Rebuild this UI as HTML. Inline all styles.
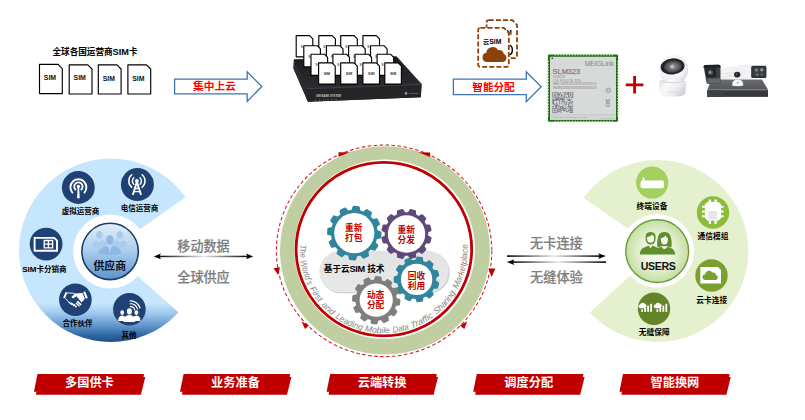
<!DOCTYPE html>
<html lang="zh-CN"><head><meta charset="utf-8"><title>云SIM 技术</title>
<style>
html,body{margin:0;padding:0;background:#fff;}
body{width:805px;height:420px;overflow:hidden;font-family:"Liberation Sans","Noto Sans CJK SC",sans-serif;}
svg{display:block;}
text{font-family:"Liberation Sans","Noto Sans CJK SC",sans-serif;}
.b{font-weight:700;}
</style></head><body>
<svg width="805" height="420" viewBox="0 0 805 420">
<defs>
<linearGradient id="gBlueC" gradientUnits="userSpaceOnUse" x1="0" y1="158.5" x2="0" y2="342">
<stop offset="0" stop-color="#c6e6fd"/><stop offset="0.79" stop-color="#c6e6fd"/><stop offset="0.847" stop-color="#9cc6ec"/><stop offset="0.913" stop-color="#5f95cb"/><stop offset="0.962" stop-color="#2f68a5"/><stop offset="1" stop-color="#1b4d8a"/>
</linearGradient>
<linearGradient id="gGreenC" gradientUnits="userSpaceOnUse" x1="0" y1="162" x2="0" y2="343">
<stop offset="0" stop-color="#e5f1ce"/><stop offset="1" stop-color="#e5f1ce"/>
</linearGradient>
<linearGradient id="gSup" x1="0" y1="0" x2="0" y2="1">
<stop offset="0" stop-color="#e2effa"/><stop offset="0.5" stop-color="#a9cdec"/><stop offset="1" stop-color="#5b93c8"/>
</linearGradient>
<radialGradient id="gUsers" cx="0.5" cy="0.5" r="0.5">
<stop offset="0" stop-color="#fbfdf7"/><stop offset="0.5" stop-color="#eaf3da"/><stop offset="1" stop-color="#c5dda2"/>
</radialGradient>
<linearGradient id="gLine" x1="0" y1="0" x2="1" y2="0">
<stop offset="0" stop-color="#000"/><stop offset="0.5" stop-color="#e8e8e8"/><stop offset="1" stop-color="#000"/>
</linearGradient>
<linearGradient id="gPill" x1="0" y1="0" x2="0" y2="1">
<stop offset="0" stop-color="#e2e2e2"/><stop offset="1" stop-color="#e9e9e9"/>
</linearGradient>
<linearGradient id="gBoxTop" x1="0" y1="0" x2="0" y2="1">
<stop offset="0" stop-color="#1d1d20"/><stop offset="1" stop-color="#2c2c30"/>
</linearGradient>
<radialGradient id="gLens" cx="0.5" cy="0.5" r="0.5">
<stop offset="0" stop-color="#9a9da4"/><stop offset="0.5" stop-color="#6a6d73"/><stop offset="0.85" stop-color="#484a4f"/><stop offset="1" stop-color="#2c2d31"/>
</radialGradient>
<radialGradient id="gCamHead" cx="0.42" cy="0.4" r="0.62">
<stop offset="0" stop-color="#ffffff"/><stop offset="0.7" stop-color="#f4f4f5"/><stop offset="1" stop-color="#d9d9dd"/>
</radialGradient>
<linearGradient id="gCamBase" x1="0" y1="0" x2="1" y2="0.5">
<stop offset="0" stop-color="#dfdfe2"/><stop offset="0.35" stop-color="#f9f9fa"/><stop offset="0.75" stop-color="#ececee"/><stop offset="1" stop-color="#d2d2d6"/>
</linearGradient>
<linearGradient id="gNvrTop" x1="0" y1="0" x2="0" y2="1">
<stop offset="0" stop-color="#6c6d70"/><stop offset="1" stop-color="#545558"/>
</linearGradient>
<path id="arcText" d="M 300.36,240.64 A 83.8,83.8 0 1 0 467.04,240.64"/>
</defs>
<rect width="805" height="420" fill="#fff"/>

<g id="simrow">
<text x="95" y="54.6" font-size="8.6" class="b" text-anchor="middle" fill="#000">全球各国运营商<tspan font-size="9.2">SIM</tspan>卡</text>
<path d="M39.5,64.4 L58.099999999999994,64.4 L62.3,68.60000000000001 L62.3,93.60000000000001 L39.5,93.60000000000001Z" fill="#fff" stroke="#000" stroke-width="1.15" stroke-linejoin="round"/>
<text x="50.0" y="80.10000000000001" font-size="6.9" class="b" text-anchor="middle" fill="#111">SIM</text>
<path d="M69.2,64.80000000000001 L87.8,64.80000000000001 L92.0,69.00000000000001 L92.0,94.00000000000001 L69.2,94.00000000000001Z" fill="#fff" stroke="#000" stroke-width="1.15" stroke-linejoin="round"/>
<text x="79.7" y="80.10000000000001" font-size="6.9" class="b" text-anchor="middle" fill="#111">SIM</text>
<path d="M98.3,64.80000000000001 L116.89999999999999,64.80000000000001 L121.1,69.00000000000001 L121.1,94.00000000000001 L98.3,94.00000000000001Z" fill="#fff" stroke="#000" stroke-width="1.15" stroke-linejoin="round"/>
<text x="108.8" y="81.00000000000001" font-size="6.9" class="b" text-anchor="middle" fill="#111">SIM</text>
<path d="M127.9,64.80000000000001 L146.50000000000003,64.80000000000001 L150.70000000000002,69.00000000000001 L150.70000000000002,94.00000000000001 L127.9,94.00000000000001Z" fill="#fff" stroke="#000" stroke-width="1.15" stroke-linejoin="round"/>
<text x="138.4" y="81.00000000000001" font-size="6.9" class="b" text-anchor="middle" fill="#111">SIM</text>
</g>
<g id="arrow1">
<path d="M174.6,79.2 L247.2,79.2 L247.2,71.8 L261.8,86.5 L247.2,101.4 L247.2,93.9 L174.6,93.9Z" fill="#fff" stroke="#3f73b8" stroke-width="1.3" stroke-linejoin="miter"/>
<text x="214.5" y="90.4" font-size="10.7" class="b" text-anchor="middle" fill="#ff0000">集中上云</text>
</g>
<g id="simbank">
<path d="M293.9,59.4 L396.4,56.4 L421.6,84.3 L420.8,97.2 L307.9,101.7 L293.5,68.6Z" fill="#222225"/>
<path d="M293.9,59.4 L396.4,56.4 L421.6,84.3 L306.6,88.6Z" fill="url(#gBoxTop)"/>
<path d="M293.9,59.4 L306.6,88.6 L307.9,101.7 L293.5,68.6Z" fill="#2b2b2f"/>
<path d="M306.6,88.6 L421.6,84.3 L420.8,97.2 L307.9,101.7Z" fill="#252528"/>
<path d="M306.6,88.7 L421.6,84.4 M396.4,56.6 L421.6,84.3" stroke="#4c4d52" stroke-width="0.7" fill="none"/>
<text x="316" y="97.4" font-size="2.7" fill="#c4c4c4" class="b">SIM BANK SYSTEM</text>
<g fill="#8a8f96"><circle cx="315.6" cy="100.20" r="0.5"/><circle cx="319.7" cy="100.04" r="0.5"/><circle cx="323.8" cy="99.88" r="0.5"/><circle cx="327.9" cy="99.72" r="0.5"/><circle cx="332.0" cy="99.56" r="0.5"/><circle cx="336.1" cy="99.40" r="0.5"/></g>
<circle cx="406" cy="93.4" r="1.3" fill="#9a9aa0"/><text x="408.4" y="94.3" font-size="2.5" fill="#aaa">cloudlink</text>
<path d="M296.2,35.6 L309.6,35.6 L312.8,38.800000000000004 L312.8,56.8 L296.2,56.8Z" fill="#fff" stroke="#000" stroke-width="1.15" stroke-linejoin="round"/>
<text x="301.7" y="47.8" font-size="3.2" class="b" text-anchor="middle" fill="#555">S</text>
<path d="M318.8,35.6 L332.20000000000005,35.6 L335.40000000000003,38.800000000000004 L335.40000000000003,56.8 L318.8,56.8Z" fill="#fff" stroke="#000" stroke-width="1.15" stroke-linejoin="round"/>
<text x="324.3" y="47.8" font-size="3.2" class="b" text-anchor="middle" fill="#555">S</text>
<path d="M340.7,35.6 L354.1,35.6 L357.3,38.800000000000004 L357.3,56.8 L340.7,56.8Z" fill="#fff" stroke="#000" stroke-width="1.15" stroke-linejoin="round"/>
<text x="346.2" y="47.8" font-size="3.2" class="b" text-anchor="middle" fill="#555">S</text>
<path d="M362.9,35.6 L376.3,35.6 L379.5,38.800000000000004 L379.5,56.8 L362.9,56.8Z" fill="#fff" stroke="#000" stroke-width="1.15" stroke-linejoin="round"/>
<text x="368.4" y="47.8" font-size="3.2" class="b" text-anchor="middle" fill="#555">S</text>
<path d="M303.8,45.7 L317.20000000000005,45.7 L320.40000000000003,48.900000000000006 L320.40000000000003,66.9 L303.8,66.9Z" fill="#fff" stroke="#000" stroke-width="1.15" stroke-linejoin="round"/>
<text x="309.3" y="57.900000000000006" font-size="3.2" class="b" text-anchor="middle" fill="#555">S</text>
<path d="M326.4,45.7 L339.8,45.7 L343.0,48.900000000000006 L343.0,66.9 L326.4,66.9Z" fill="#fff" stroke="#000" stroke-width="1.15" stroke-linejoin="round"/>
<text x="331.9" y="57.900000000000006" font-size="3.2" class="b" text-anchor="middle" fill="#555">S</text>
<path d="M348.6,45.7 L362.00000000000006,45.7 L365.20000000000005,48.900000000000006 L365.20000000000005,66.9 L348.6,66.9Z" fill="#fff" stroke="#000" stroke-width="1.15" stroke-linejoin="round"/>
<text x="354.1" y="57.900000000000006" font-size="3.2" class="b" text-anchor="middle" fill="#555">S</text>
<path d="M370.5,45.7 L383.90000000000003,45.7 L387.1,48.900000000000006 L387.1,66.9 L370.5,66.9Z" fill="#fff" stroke="#000" stroke-width="1.15" stroke-linejoin="round"/>
<text x="376.0" y="57.900000000000006" font-size="3.2" class="b" text-anchor="middle" fill="#555">S</text>
<path d="M311.0,54.2 L324.40000000000003,54.2 L327.6,57.400000000000006 L327.6,75.4 L311.0,75.4Z" fill="#fff" stroke="#000" stroke-width="1.15" stroke-linejoin="round"/>
<text x="316.5" y="66.4" font-size="3.2" class="b" text-anchor="middle" fill="#555">S</text>
<path d="M332.9,54.2 L346.3,54.2 L349.5,57.400000000000006 L349.5,75.4 L332.9,75.4Z" fill="#fff" stroke="#000" stroke-width="1.15" stroke-linejoin="round"/>
<text x="338.4" y="66.4" font-size="3.2" class="b" text-anchor="middle" fill="#555">S</text>
<path d="M355.0,54.2 L368.40000000000003,54.2 L371.6,57.400000000000006 L371.6,75.4 L355.0,75.4Z" fill="#fff" stroke="#000" stroke-width="1.15" stroke-linejoin="round"/>
<text x="360.5" y="66.4" font-size="3.2" class="b" text-anchor="middle" fill="#555">S</text>
<path d="M377.1,54.2 L390.50000000000006,54.2 L393.70000000000005,57.400000000000006 L393.70000000000005,75.4 L377.1,75.4Z" fill="#fff" stroke="#000" stroke-width="1.15" stroke-linejoin="round"/>
<text x="382.6" y="66.4" font-size="3.2" class="b" text-anchor="middle" fill="#555">S</text>
<path d="M318.6,62.9 L332.00000000000006,62.9 L335.20000000000005,66.1 L335.20000000000005,84.1 L318.6,84.1Z" fill="#fff" stroke="#000" stroke-width="1.15" stroke-linejoin="round"/>
<text x="326.90000000000003" y="75.1" font-size="3.6" class="b" text-anchor="middle" fill="#333">SIM</text>
<path d="M340.7,62.9 L354.1,62.9 L357.3,66.1 L357.3,84.1 L340.7,84.1Z" fill="#fff" stroke="#000" stroke-width="1.15" stroke-linejoin="round"/>
<text x="349.0" y="75.1" font-size="3.6" class="b" text-anchor="middle" fill="#333">SIM</text>
<path d="M362.9,62.9 L376.3,62.9 L379.5,66.1 L379.5,84.1 L362.9,84.1Z" fill="#fff" stroke="#000" stroke-width="1.15" stroke-linejoin="round"/>
<text x="371.2" y="75.1" font-size="3.6" class="b" text-anchor="middle" fill="#333">SIM</text>
<path d="M384.8,62.9 L398.20000000000005,62.9 L401.40000000000003,66.1 L401.40000000000003,84.1 L384.8,84.1Z" fill="#fff" stroke="#000" stroke-width="1.15" stroke-linejoin="round"/>
<text x="393.1" y="75.1" font-size="3.6" class="b" text-anchor="middle" fill="#333">SIM</text>
</g>
<g id="cloudsim">
<path d="M488.8,20.2 L512.4,20.2 L517.0,24.799999999999997 L517.0,56.0 Q517.0,58.2 514.8,58.2 L488.8,58.2 Q486.6,58.2 486.6,56.0 L486.6,22.4 Q486.6,20.2 488.8,20.2Z" fill="#fff" stroke="#8f4208" stroke-width="1.8" stroke-dasharray="5 2.1" stroke-linejoin="round"/>
<text x="506.6" y="35.4" font-size="6.4" class="b" fill="#000">M</text>
<path d="M509.6,45.2 a3.4,4.9 0 0 1 0,9.6" fill="none" stroke="#000" stroke-width="1.4"/>
<path d="M480.4,27.8 L503.8,27.8 L508.8,32.8 L508.8,64.6 Q508.8,66.8 506.6,66.8 L480.4,66.8 Q478.2,66.8 478.2,64.6 L478.2,30.0 Q478.2,27.8 480.4,27.8Z" fill="#fff" stroke="#8f4208" stroke-width="1.8" stroke-dasharray="5 2.1" stroke-linejoin="round"/>
<text x="492.2" y="43.6" font-size="6.2" class="b" text-anchor="middle" fill="#000">云<tspan font-size="6.8">SIM</tspan></text>
<path d="M487.0,62 a4.7,4.7 0 0 1 -0.7,-9.3 a6.3,6.3 0 0 1 11.8,-2.4 a4.5,4.5 0 0 1 5.7,3.6 a4.2,4.2 0 0 1 -1.3,8.1Z" fill="#8f4208"/>
</g>
<g id="arrow2">
<path d="M453.4,79.2 L526.3,79.2 L526.3,71.9 L541.2,86.8 L526.3,101.7 L526.3,94.6 L453.4,94.6Z" fill="#fff" stroke="#3f73b8" stroke-width="1.3"/>
<text x="493.5" y="90.7" font-size="10.6" class="b" text-anchor="middle" fill="#ff0000">智能分配</text>
</g>
<g id="module">
<rect x="547.9" y="54.6" width="70.2" height="67.1" rx="1.4" fill="#1e6e14"/>
<rect x="554.60" y="54.4" width="1.2" height="1.1" fill="#eef3cf"/><rect x="554.60" y="120.8" width="1.2" height="1.1" fill="#eef3cf"/><rect x="557.46" y="54.4" width="1.2" height="1.1" fill="#eef3cf"/><rect x="557.46" y="120.8" width="1.2" height="1.1" fill="#eef3cf"/><rect x="560.32" y="54.4" width="1.2" height="1.1" fill="#eef3cf"/><rect x="560.32" y="120.8" width="1.2" height="1.1" fill="#eef3cf"/><rect x="563.18" y="54.4" width="1.2" height="1.1" fill="#eef3cf"/><rect x="563.18" y="120.8" width="1.2" height="1.1" fill="#eef3cf"/><rect x="566.04" y="54.4" width="1.2" height="1.1" fill="#eef3cf"/><rect x="566.04" y="120.8" width="1.2" height="1.1" fill="#eef3cf"/><rect x="568.90" y="54.4" width="1.2" height="1.1" fill="#eef3cf"/><rect x="568.90" y="120.8" width="1.2" height="1.1" fill="#eef3cf"/><rect x="571.76" y="54.4" width="1.2" height="1.1" fill="#eef3cf"/><rect x="571.76" y="120.8" width="1.2" height="1.1" fill="#eef3cf"/><rect x="574.62" y="54.4" width="1.2" height="1.1" fill="#eef3cf"/><rect x="574.62" y="120.8" width="1.2" height="1.1" fill="#eef3cf"/><rect x="577.48" y="54.4" width="1.2" height="1.1" fill="#eef3cf"/><rect x="577.48" y="120.8" width="1.2" height="1.1" fill="#eef3cf"/><rect x="580.34" y="54.4" width="1.2" height="1.1" fill="#eef3cf"/><rect x="580.34" y="120.8" width="1.2" height="1.1" fill="#eef3cf"/><rect x="583.20" y="54.4" width="1.2" height="1.1" fill="#eef3cf"/><rect x="583.20" y="120.8" width="1.2" height="1.1" fill="#eef3cf"/><rect x="586.06" y="54.4" width="1.2" height="1.1" fill="#eef3cf"/><rect x="586.06" y="120.8" width="1.2" height="1.1" fill="#eef3cf"/><rect x="588.92" y="54.4" width="1.2" height="1.1" fill="#eef3cf"/><rect x="588.92" y="120.8" width="1.2" height="1.1" fill="#eef3cf"/><rect x="591.78" y="54.4" width="1.2" height="1.1" fill="#eef3cf"/><rect x="591.78" y="120.8" width="1.2" height="1.1" fill="#eef3cf"/><rect x="594.64" y="54.4" width="1.2" height="1.1" fill="#eef3cf"/><rect x="594.64" y="120.8" width="1.2" height="1.1" fill="#eef3cf"/><rect x="597.50" y="54.4" width="1.2" height="1.1" fill="#eef3cf"/><rect x="597.50" y="120.8" width="1.2" height="1.1" fill="#eef3cf"/><rect x="600.36" y="54.4" width="1.2" height="1.1" fill="#eef3cf"/><rect x="600.36" y="120.8" width="1.2" height="1.1" fill="#eef3cf"/><rect x="603.22" y="54.4" width="1.2" height="1.1" fill="#eef3cf"/><rect x="603.22" y="120.8" width="1.2" height="1.1" fill="#eef3cf"/><rect x="606.08" y="54.4" width="1.2" height="1.1" fill="#eef3cf"/><rect x="606.08" y="120.8" width="1.2" height="1.1" fill="#eef3cf"/><rect x="608.94" y="54.4" width="1.2" height="1.1" fill="#eef3cf"/><rect x="608.94" y="120.8" width="1.2" height="1.1" fill="#eef3cf"/><rect x="611.80" y="54.4" width="1.2" height="1.1" fill="#eef3cf"/><rect x="611.80" y="120.8" width="1.2" height="1.1" fill="#eef3cf"/><rect x="547.7" y="60.80" width="1.1" height="1.2" fill="#eef3cf"/><rect x="617.2" y="60.80" width="1.1" height="1.2" fill="#eef3cf"/><rect x="547.7" y="63.66" width="1.1" height="1.2" fill="#eef3cf"/><rect x="617.2" y="63.66" width="1.1" height="1.2" fill="#eef3cf"/><rect x="547.7" y="66.52" width="1.1" height="1.2" fill="#eef3cf"/><rect x="617.2" y="66.52" width="1.1" height="1.2" fill="#eef3cf"/><rect x="547.7" y="69.38" width="1.1" height="1.2" fill="#eef3cf"/><rect x="617.2" y="69.38" width="1.1" height="1.2" fill="#eef3cf"/><rect x="547.7" y="72.24" width="1.1" height="1.2" fill="#eef3cf"/><rect x="617.2" y="72.24" width="1.1" height="1.2" fill="#eef3cf"/><rect x="547.7" y="75.10" width="1.1" height="1.2" fill="#eef3cf"/><rect x="617.2" y="75.10" width="1.1" height="1.2" fill="#eef3cf"/><rect x="547.7" y="77.96" width="1.1" height="1.2" fill="#eef3cf"/><rect x="617.2" y="77.96" width="1.1" height="1.2" fill="#eef3cf"/><rect x="547.7" y="80.82" width="1.1" height="1.2" fill="#eef3cf"/><rect x="617.2" y="80.82" width="1.1" height="1.2" fill="#eef3cf"/><rect x="547.7" y="83.68" width="1.1" height="1.2" fill="#eef3cf"/><rect x="617.2" y="83.68" width="1.1" height="1.2" fill="#eef3cf"/><rect x="547.7" y="86.54" width="1.1" height="1.2" fill="#eef3cf"/><rect x="617.2" y="86.54" width="1.1" height="1.2" fill="#eef3cf"/><rect x="547.7" y="89.40" width="1.1" height="1.2" fill="#eef3cf"/><rect x="617.2" y="89.40" width="1.1" height="1.2" fill="#eef3cf"/><rect x="547.7" y="92.26" width="1.1" height="1.2" fill="#eef3cf"/><rect x="617.2" y="92.26" width="1.1" height="1.2" fill="#eef3cf"/><rect x="547.7" y="95.12" width="1.1" height="1.2" fill="#eef3cf"/><rect x="617.2" y="95.12" width="1.1" height="1.2" fill="#eef3cf"/><rect x="547.7" y="97.98" width="1.1" height="1.2" fill="#eef3cf"/><rect x="617.2" y="97.98" width="1.1" height="1.2" fill="#eef3cf"/><rect x="547.7" y="100.84" width="1.1" height="1.2" fill="#eef3cf"/><rect x="617.2" y="100.84" width="1.1" height="1.2" fill="#eef3cf"/><rect x="547.7" y="103.70" width="1.1" height="1.2" fill="#eef3cf"/><rect x="617.2" y="103.70" width="1.1" height="1.2" fill="#eef3cf"/><rect x="547.7" y="106.56" width="1.1" height="1.2" fill="#eef3cf"/><rect x="617.2" y="106.56" width="1.1" height="1.2" fill="#eef3cf"/><rect x="547.7" y="109.42" width="1.1" height="1.2" fill="#eef3cf"/><rect x="617.2" y="109.42" width="1.1" height="1.2" fill="#eef3cf"/><rect x="547.7" y="112.28" width="1.1" height="1.2" fill="#eef3cf"/><rect x="617.2" y="112.28" width="1.1" height="1.2" fill="#eef3cf"/><rect x="547.7" y="115.14" width="1.1" height="1.2" fill="#eef3cf"/><rect x="617.2" y="115.14" width="1.1" height="1.2" fill="#eef3cf"/>
<rect x="550" y="56.7" width="66" height="63.1" rx="0.6" fill="#d8d9d9"/>
<rect x="550" y="114.8" width="66" height="5" fill="#d4d5d5"/>
<path d="M551,114.8 H615" stroke="#b9babb" stroke-width="0.5"/>
<rect x="551.6" y="57.6" width="1.3" height="1.3" fill="#222"/>
<text x="613.4" y="65.5" font-size="7" text-anchor="end" fill="#858789" font-family="'Liberation Sans',sans-serif" letter-spacing="-0.25">MEIGLink</text>
<text x="552.6" y="74.4" font-size="7.4" fill="#7c7e82" font-family="'Liberation Sans',sans-serif" stroke="#7c7e82" stroke-width="0.25">SLM323</text>
<text x="552.8" y="78.2" font-size="2.8" fill="#85858a" font-family="'Liberation Sans',sans-serif">SLM323X</text>
<text x="552.8" y="81.8" font-size="3" fill="#85858a" font-family="'Liberation Sans',sans-serif" textLength="28.2" lengthAdjust="spacing">LTE-FDD/LTE-TDD</text>
<text x="552.8" y="85.4" font-size="3" fill="#7d7d82" font-family="'Liberation Sans',sans-serif" textLength="43.6" lengthAdjust="spacing">IMEI:XXXXXXXXXXXXXXXXX</text>
<text x="552.8" y="88.7" font-size="3" fill="#7d7d82" font-family="'Liberation Sans',sans-serif" textLength="43.6" lengthAdjust="spacing">SN:MG23XXXXXXXXXXXXXXXX</text>
<path d="M557.52,92.20h0.87v0.87h-0.87zM558.39,92.20h0.87v0.87h-0.87zM560.13,92.20h0.87v0.87h-0.87zM561.87,92.20h0.87v0.87h-0.87zM562.74,92.20h0.87v0.87h-0.87zM564.48,92.20h0.87v0.87h-0.87zM565.35,92.20h0.87v0.87h-0.87zM566.22,92.20h0.87v0.87h-0.87zM567.09,92.20h0.87v0.87h-0.87zM557.52,93.07h0.87v0.87h-0.87zM559.26,93.07h0.87v0.87h-0.87zM560.13,93.07h0.87v0.87h-0.87zM563.61,93.07h0.87v0.87h-0.87zM565.35,93.07h0.87v0.87h-0.87zM567.09,93.07h0.87v0.87h-0.87zM557.52,93.94h0.87v0.87h-0.87zM558.39,93.94h0.87v0.87h-0.87zM559.26,93.94h0.87v0.87h-0.87zM561.00,93.94h0.87v0.87h-0.87zM563.61,93.94h0.87v0.87h-0.87zM565.35,93.94h0.87v0.87h-0.87zM566.22,93.94h0.87v0.87h-0.87zM567.09,93.94h0.87v0.87h-0.87zM558.39,94.81h0.87v0.87h-0.87zM559.26,94.81h0.87v0.87h-0.87zM561.00,94.81h0.87v0.87h-0.87zM561.87,94.81h0.87v0.87h-0.87zM564.48,94.81h0.87v0.87h-0.87zM558.39,95.68h0.87v0.87h-0.87zM560.13,95.68h0.87v0.87h-0.87zM561.00,95.68h0.87v0.87h-0.87zM562.74,95.68h0.87v0.87h-0.87zM563.61,95.68h0.87v0.87h-0.87zM564.48,95.68h0.87v0.87h-0.87zM558.39,96.55h0.87v0.87h-0.87zM561.87,96.55h0.87v0.87h-0.87zM564.48,96.55h0.87v0.87h-0.87zM566.22,96.55h0.87v0.87h-0.87zM554.91,97.42h0.87v0.87h-0.87zM555.78,97.42h0.87v0.87h-0.87zM557.52,97.42h0.87v0.87h-0.87zM558.39,97.42h0.87v0.87h-0.87zM559.26,97.42h0.87v0.87h-0.87zM560.13,97.42h0.87v0.87h-0.87zM561.00,97.42h0.87v0.87h-0.87zM562.74,97.42h0.87v0.87h-0.87zM563.61,97.42h0.87v0.87h-0.87zM564.48,97.42h0.87v0.87h-0.87zM566.22,97.42h0.87v0.87h-0.87zM567.09,97.42h0.87v0.87h-0.87zM571.44,97.42h0.87v0.87h-0.87zM572.31,97.42h0.87v0.87h-0.87zM552.30,98.29h0.87v0.87h-0.87zM554.91,98.29h0.87v0.87h-0.87zM555.78,98.29h0.87v0.87h-0.87zM556.65,98.29h0.87v0.87h-0.87zM557.52,98.29h0.87v0.87h-0.87zM558.39,98.29h0.87v0.87h-0.87zM560.13,98.29h0.87v0.87h-0.87zM561.00,98.29h0.87v0.87h-0.87zM561.87,98.29h0.87v0.87h-0.87zM562.74,98.29h0.87v0.87h-0.87zM568.83,98.29h0.87v0.87h-0.87zM552.30,99.16h0.87v0.87h-0.87zM553.17,99.16h0.87v0.87h-0.87zM554.04,99.16h0.87v0.87h-0.87zM555.78,99.16h0.87v0.87h-0.87zM556.65,99.16h0.87v0.87h-0.87zM557.52,99.16h0.87v0.87h-0.87zM558.39,99.16h0.87v0.87h-0.87zM559.26,99.16h0.87v0.87h-0.87zM560.13,99.16h0.87v0.87h-0.87zM561.00,99.16h0.87v0.87h-0.87zM561.87,99.16h0.87v0.87h-0.87zM562.74,99.16h0.87v0.87h-0.87zM563.61,99.16h0.87v0.87h-0.87zM564.48,99.16h0.87v0.87h-0.87zM567.09,99.16h0.87v0.87h-0.87zM567.96,99.16h0.87v0.87h-0.87zM568.83,99.16h0.87v0.87h-0.87zM569.70,99.16h0.87v0.87h-0.87zM570.57,99.16h0.87v0.87h-0.87zM552.30,100.03h0.87v0.87h-0.87zM553.17,100.03h0.87v0.87h-0.87zM554.04,100.03h0.87v0.87h-0.87zM554.91,100.03h0.87v0.87h-0.87zM555.78,100.03h0.87v0.87h-0.87zM556.65,100.03h0.87v0.87h-0.87zM558.39,100.03h0.87v0.87h-0.87zM559.26,100.03h0.87v0.87h-0.87zM561.87,100.03h0.87v0.87h-0.87zM563.61,100.03h0.87v0.87h-0.87zM567.96,100.03h0.87v0.87h-0.87zM568.83,100.03h0.87v0.87h-0.87zM569.70,100.03h0.87v0.87h-0.87zM552.30,100.90h0.87v0.87h-0.87zM553.17,100.90h0.87v0.87h-0.87zM559.26,100.90h0.87v0.87h-0.87zM561.00,100.90h0.87v0.87h-0.87zM561.87,100.90h0.87v0.87h-0.87zM562.74,100.90h0.87v0.87h-0.87zM563.61,100.90h0.87v0.87h-0.87zM564.48,100.90h0.87v0.87h-0.87zM567.09,100.90h0.87v0.87h-0.87zM570.57,100.90h0.87v0.87h-0.87zM571.44,100.90h0.87v0.87h-0.87zM572.31,100.90h0.87v0.87h-0.87zM552.30,101.77h0.87v0.87h-0.87zM553.17,101.77h0.87v0.87h-0.87zM556.65,101.77h0.87v0.87h-0.87zM559.26,101.77h0.87v0.87h-0.87zM563.61,101.77h0.87v0.87h-0.87zM564.48,101.77h0.87v0.87h-0.87zM566.22,101.77h0.87v0.87h-0.87zM568.83,101.77h0.87v0.87h-0.87zM569.70,101.77h0.87v0.87h-0.87zM572.31,101.77h0.87v0.87h-0.87zM552.30,102.64h0.87v0.87h-0.87zM553.17,102.64h0.87v0.87h-0.87zM555.78,102.64h0.87v0.87h-0.87zM559.26,102.64h0.87v0.87h-0.87zM561.00,102.64h0.87v0.87h-0.87zM561.87,102.64h0.87v0.87h-0.87zM566.22,102.64h0.87v0.87h-0.87zM568.83,102.64h0.87v0.87h-0.87zM569.70,102.64h0.87v0.87h-0.87zM570.57,102.64h0.87v0.87h-0.87zM571.44,102.64h0.87v0.87h-0.87zM552.30,103.51h0.87v0.87h-0.87zM553.17,103.51h0.87v0.87h-0.87zM554.04,103.51h0.87v0.87h-0.87zM555.78,103.51h0.87v0.87h-0.87zM556.65,103.51h0.87v0.87h-0.87zM559.26,103.51h0.87v0.87h-0.87zM563.61,103.51h0.87v0.87h-0.87zM564.48,103.51h0.87v0.87h-0.87zM565.35,103.51h0.87v0.87h-0.87zM566.22,103.51h0.87v0.87h-0.87zM567.96,103.51h0.87v0.87h-0.87zM568.83,103.51h0.87v0.87h-0.87zM571.44,103.51h0.87v0.87h-0.87zM554.04,104.38h0.87v0.87h-0.87zM555.78,104.38h0.87v0.87h-0.87zM556.65,104.38h0.87v0.87h-0.87zM561.87,104.38h0.87v0.87h-0.87zM566.22,104.38h0.87v0.87h-0.87zM567.96,104.38h0.87v0.87h-0.87zM572.31,104.38h0.87v0.87h-0.87zM554.91,105.25h0.87v0.87h-0.87zM555.78,105.25h0.87v0.87h-0.87zM556.65,105.25h0.87v0.87h-0.87zM557.52,105.25h0.87v0.87h-0.87zM558.39,105.25h0.87v0.87h-0.87zM559.26,105.25h0.87v0.87h-0.87zM562.74,105.25h0.87v0.87h-0.87zM565.35,105.25h0.87v0.87h-0.87zM567.96,105.25h0.87v0.87h-0.87zM569.70,105.25h0.87v0.87h-0.87zM570.57,105.25h0.87v0.87h-0.87zM552.30,106.12h0.87v0.87h-0.87zM553.17,106.12h0.87v0.87h-0.87zM554.91,106.12h0.87v0.87h-0.87zM555.78,106.12h0.87v0.87h-0.87zM556.65,106.12h0.87v0.87h-0.87zM558.39,106.12h0.87v0.87h-0.87zM560.13,106.12h0.87v0.87h-0.87zM561.00,106.12h0.87v0.87h-0.87zM561.87,106.12h0.87v0.87h-0.87zM564.48,106.12h0.87v0.87h-0.87zM567.96,106.12h0.87v0.87h-0.87zM568.83,106.12h0.87v0.87h-0.87zM569.70,106.12h0.87v0.87h-0.87zM571.44,106.12h0.87v0.87h-0.87zM572.31,106.12h0.87v0.87h-0.87zM552.30,106.99h0.87v0.87h-0.87zM554.91,106.99h0.87v0.87h-0.87zM555.78,106.99h0.87v0.87h-0.87zM559.26,106.99h0.87v0.87h-0.87zM560.13,106.99h0.87v0.87h-0.87zM561.87,106.99h0.87v0.87h-0.87zM562.74,106.99h0.87v0.87h-0.87zM566.22,106.99h0.87v0.87h-0.87zM567.96,106.99h0.87v0.87h-0.87zM569.70,106.99h0.87v0.87h-0.87zM570.57,106.99h0.87v0.87h-0.87zM557.52,107.86h0.87v0.87h-0.87zM558.39,107.86h0.87v0.87h-0.87zM560.13,107.86h0.87v0.87h-0.87zM561.00,107.86h0.87v0.87h-0.87zM561.87,107.86h0.87v0.87h-0.87zM562.74,107.86h0.87v0.87h-0.87zM563.61,107.86h0.87v0.87h-0.87zM564.48,107.86h0.87v0.87h-0.87zM565.35,107.86h0.87v0.87h-0.87zM567.09,107.86h0.87v0.87h-0.87zM568.83,107.86h0.87v0.87h-0.87zM569.70,107.86h0.87v0.87h-0.87zM570.57,107.86h0.87v0.87h-0.87zM571.44,107.86h0.87v0.87h-0.87zM572.31,107.86h0.87v0.87h-0.87zM559.26,108.73h0.87v0.87h-0.87zM560.13,108.73h0.87v0.87h-0.87zM561.87,108.73h0.87v0.87h-0.87zM563.61,108.73h0.87v0.87h-0.87zM564.48,108.73h0.87v0.87h-0.87zM566.22,108.73h0.87v0.87h-0.87zM569.70,108.73h0.87v0.87h-0.87zM557.52,109.60h0.87v0.87h-0.87zM558.39,109.60h0.87v0.87h-0.87zM559.26,109.60h0.87v0.87h-0.87zM560.13,109.60h0.87v0.87h-0.87zM561.00,109.60h0.87v0.87h-0.87zM562.74,109.60h0.87v0.87h-0.87zM563.61,109.60h0.87v0.87h-0.87zM564.48,109.60h0.87v0.87h-0.87zM567.96,109.60h0.87v0.87h-0.87zM568.83,109.60h0.87v0.87h-0.87zM569.70,109.60h0.87v0.87h-0.87zM570.57,109.60h0.87v0.87h-0.87zM571.44,109.60h0.87v0.87h-0.87zM572.31,109.60h0.87v0.87h-0.87zM557.52,110.47h0.87v0.87h-0.87zM561.00,110.47h0.87v0.87h-0.87zM562.74,110.47h0.87v0.87h-0.87zM563.61,110.47h0.87v0.87h-0.87zM564.48,110.47h0.87v0.87h-0.87zM565.35,110.47h0.87v0.87h-0.87zM566.22,110.47h0.87v0.87h-0.87zM567.96,110.47h0.87v0.87h-0.87zM569.70,110.47h0.87v0.87h-0.87zM570.57,110.47h0.87v0.87h-0.87zM571.44,110.47h0.87v0.87h-0.87zM572.31,110.47h0.87v0.87h-0.87zM557.52,111.34h0.87v0.87h-0.87zM558.39,111.34h0.87v0.87h-0.87zM559.26,111.34h0.87v0.87h-0.87zM560.13,111.34h0.87v0.87h-0.87zM566.22,111.34h0.87v0.87h-0.87zM567.09,111.34h0.87v0.87h-0.87zM568.83,111.34h0.87v0.87h-0.87zM571.44,111.34h0.87v0.87h-0.87zM561.00,112.21h0.87v0.87h-0.87zM569.70,112.21h0.87v0.87h-0.87zM570.57,112.21h0.87v0.87h-0.87zM571.44,112.21h0.87v0.87h-0.87zM572.31,112.21h0.87v0.87h-0.87z" fill="#808286"/>
<rect x="552.80" y="92.70" width="4.35" height="4.35" fill="none" stroke="#7a7c81" stroke-width="0.87"/><rect x="554.04" y="93.94" width="1.74" height="1.74" fill="#7a7c81"/>
<rect x="568.46" y="92.70" width="4.35" height="4.35" fill="none" stroke="#7a7c81" stroke-width="0.87"/><rect x="569.70" y="93.94" width="1.74" height="1.74" fill="#7a7c81"/>
<rect x="552.80" y="108.36" width="4.35" height="4.35" fill="none" stroke="#7a7c81" stroke-width="0.87"/><rect x="554.04" y="109.60" width="1.74" height="1.74" fill="#7a7c81"/>
<circle cx="608.3" cy="90.3" r="2.3" fill="none" stroke="#86888c" stroke-width="0.7"/><circle cx="608.3" cy="90.3" r="0.9" fill="none" stroke="#86888c" stroke-width="0.45"/>
<path d="M605.6,98.8 L610,105 M610,98.8 L605.6,105 M606.2,100.2 h3.3 l-0.4,3.6 h-2.5z" fill="none" stroke="#86888c" stroke-width="0.6"/><path d="M605.8,106.2h4.2" stroke="#86888c" stroke-width="0.8"/>
<text x="552.8" y="118.2" font-size="2.3" fill="#8d8d91" font-family="'Liberation Sans',sans-serif">MeiG Smart Technology Co., LTD</text>
<text x="613.6" y="118.6" font-size="2.3" text-anchor="end" fill="#98989c" font-family="'Liberation Sans',sans-serif">Made in China</text>
</g>
<path d="M625.8,84.8 H643.4 M634.6,76 V93.6" stroke="#c00000" stroke-width="2.8" fill="none"/>
<g id="cam1">
<circle cx="673.6" cy="69.6" r="14.6" fill="url(#gCamHead)"/>
<path d="M659.2,83.4 Q659,80.2 662.4,80.2 L683,80.2 Q686.2,80.2 686,83.4 L685.6,92.4 Q685.4,96.6 672.6,96.6 Q659.8,96.6 659.6,92.4Z" fill="url(#gCamBase)"/>
<path d="M660.4,80.9 Q672.6,84.6 684.8,80.9" fill="none" stroke="#d3d3d7" stroke-width="0.9"/>
<ellipse cx="672.6" cy="66.4" rx="12" ry="8" fill="#222326" transform="rotate(-6 672.8 66.4)"/>
<ellipse cx="672.8" cy="66.7" rx="9.2" ry="6.3" fill="url(#gLens)" transform="rotate(-6 672.6 66.6)"/>
<circle cx="672.4" cy="66.8" r="2.2" fill="#9ea3ab"/><circle cx="672" cy="66.4" r="0.9" fill="#e0e3e8"/>
<path d="M667,92.2 h11" stroke="#c9c9ce" stroke-width="0.5"/>
</g>
<g id="nvr">
<path d="M721,70.6 Q726,66.4 733,67.4 Q741,64.6 752,65.4 L752,79 Q742,79.8 736,77 Q728,79.4 721,78.6Z" fill="#f3f3f5" stroke="#e2e2e6" stroke-width="0.5"/>
<path d="M722.4,73.8 Q729,72 735.4,73.6 M723,76.6 Q729,75 735,76.6" fill="none" stroke="#dadade" stroke-width="0.6"/>
<rect x="751.2" y="65.8" width="15.2" height="12.2" rx="1.6" fill="#2b2e33"/>
<rect x="752.6" y="67" width="12.4" height="9.8" rx="1.2" fill="#393c42"/>
<circle cx="756.6" cy="70.2" r="2" fill="#5d626c"/><circle cx="756.2" cy="69.8" r="0.7" fill="#a8adb8"/>
<circle cx="761.8" cy="69.8" r="1.6" fill="#a39a80"/><circle cx="757.2" cy="74.6" r="1.4" fill="#70757d"/><circle cx="761.8" cy="74.6" r="1.4" fill="#565a62"/>
<path d="M711.5,79.6 L762,79.6 L768,89.8 L707.3,89.8Z" fill="url(#gNvrTop)"/>
<rect x="707.3" y="89.8" width="60.7" height="7.1" fill="#38393c"/>
<path d="M707.3,89.9 H768" stroke="#87888b" stroke-width="0.8"/>
<rect x="707.3" y="90.3" width="16" height="6.6" fill="#3f4043"/>
<path d="M703.6,66.6 Q703.6,65.2 705.4,65.1 L718.8,64.8 Q720.5,64.9 720.5,66.6 L720.5,82 Q720.5,83.5 718.8,83.6 L708.4,84 Q706.8,84 706.5,82.6Z" fill="#3c3f45"/>
<path d="M703.6,66.8 Q703.6,65.2 705.4,65.1 L718.8,64.8 Q720.5,64.9 720.5,66.8 L720.5,67.6 L703.8,68Z" fill="#1d1f22"/>
<path d="M705.2,68.4 L716.2,68.2 L716.2,77.4 L706.4,77.6Z" fill="#24262a"/><circle cx="710.4" cy="72.6" r="2.5" fill="#565b64"/><circle cx="710" cy="72.2" r="0.9" fill="#b4bac6"/>
<path d="M707.2,78.6 L720,78.2 L720,83 L707.8,83.4Z" fill="#62666d"/>
<path d="M732.4,85.4 Q732,79.8 737.7,79.6 Q743.4,79.8 743,85.4 Q737.7,86.6 732.4,85.4Z" fill="#f7f7f8" stroke="#dcdce0" stroke-width="0.5"/>
<circle cx="737.7" cy="74.3" r="4.9" fill="#f2f2f4" stroke="#dcdce0" stroke-width="0.5"/>
<ellipse cx="737.2" cy="74.6" rx="3.2" ry="2.9" fill="#25272b"/><circle cx="736.6" cy="74" r="0.8" fill="#7c818b"/><circle cx="737.7" cy="82.7" r="0.8" fill="#49a24b"/>
</g>
<g id="leftC">
<circle cx="110.8" cy="250.3" r="91.8" fill="url(#gBlueC)"/>
<path d="M109.5,251 L207.8,181.2 L216,181.2 L216,331 L200.4,331.7Z" fill="#fff"/>
<circle cx="110.2" cy="251.5" r="37" fill="#fff"/>
<circle cx="110.1" cy="251.4" r="28.2" fill="url(#gSup)" stroke="#1c3c6e" stroke-width="1.6"/>
<ellipse cx="99.3" cy="234.9" rx="3.1" ry="4.0" fill="#a9cbee"/><path d="M91.7,246.6 Q91.7,241.39999999999998 96.50999999999999,240.2 L99.3,242.39999999999998 L102.09,240.2 Q106.89999999999999,241.39999999999998 106.89999999999999,246.6 Q99.3,249.0 91.7,246.6Z" fill="#a9cbee"/>
<ellipse cx="119.8" cy="234.9" rx="3.1" ry="4.0" fill="#a9cbee"/><path d="M112.2,246.6 Q112.2,241.39999999999998 117.00999999999999,240.2 L119.8,242.39999999999998 L122.59,240.2 Q127.39999999999999,241.39999999999998 127.39999999999999,246.6 Q119.8,249.0 112.2,246.6Z" fill="#a9cbee"/>
<ellipse cx="109.8" cy="240.0" rx="3.7" ry="4.8" fill="#8fb9e4"/><path d="M98.39999999999999,253.8 Q98.39999999999999,247.39999999999998 106.47,246.2 L109.8,248.39999999999998 L113.13,246.2 Q121.2,247.39999999999998 121.2,253.8 Q109.8,256.2 98.39999999999999,253.8Z" fill="#8fb9e4"/>
<path d="M108.9,247.4 L109.8,253 L110.7,247.4Z" fill="#c6ddf3"/>
<text x="109.8" y="270.4" font-size="10.9" class="b" text-anchor="middle" fill="#0a0f1c">供应商</text>
<circle cx="78.3" cy="187.5" r="16.4" fill="#1f4173"/>
<g fill="none" stroke="#fff" stroke-width="1.9" stroke-linecap="round"><path d="M75.5,189.6 A4.2,4.2 0 1 1 81.3,189.6"/><path d="M72.4,192.6 A8,8 0 1 1 84.4,192.6"/></g><circle cx="78.4" cy="186.4" r="1.7" fill="#fff"/><path d="M77.7,186.6 L77.1,198 Q78.4,198.8 79.7,198 L79.1,186.6Z" fill="#fff"/>
<text x="80.6" y="214.3" font-size="7.5" class="b" text-anchor="middle" fill="#000">虚拟运营商</text>
<circle cx="137.4" cy="184.6" r="16.5" fill="#1f4173"/>
<g fill="none" stroke="#fff" stroke-linecap="round"><path d="M136.9,182 L133,194.2 M136.9,182 L140.8,194.2" stroke-width="1.9"/><path d="M134.8,188.5 h4.2 M133.8,191.7 h6.2" stroke-width="1.3"/><path d="M133.77,184.24 A4.5,4.5 0 0 1 133.77,177.76 M140.03,184.24 A4.5,4.5 0 0 0 140.03,177.76" stroke-width="1.5"/><path d="M131.69,187.20 A8.1,8.1 0 0 1 131.69,174.80 M142.11,187.20 A8.1,8.1 0 0 0 142.11,174.80" stroke-width="1.5"/></g><circle cx="136.9" cy="181" r="1.9" fill="#fff"/>
<text x="139.4" y="211.3" font-size="7.5" class="b" text-anchor="middle" fill="#000">电信运营商</text>
<circle cx="46.1" cy="244.1" r="16.4" fill="#1f4173"/>
<path d="M34.6,237.9 H54.2 L57,240.7 V250.7 H34.6Z" fill="none" stroke="#fff" stroke-width="1.9" stroke-linejoin="miter"/>
<path d="M44.2,240.5 H52.6 V247.9 H44.2Z M48.4,240.5 V247.9 M44.2,244.2 H52.6" fill="none" stroke="#fff" stroke-width="1.3"/>
<text x="44.4" y="271.5" font-size="7.5" class="b" text-anchor="middle" fill="#000"><tspan font-size="8">SIM</tspan>卡分销商</text>
<circle cx="75.4" cy="299.7" r="16.3" fill="#1f4173"/>
<g fill="#fff"><path d="M63.2,297.7 L65.6,291.9 L67.4,292.6 L65,298.6Z"/><path d="M83.2,292 L85.2,291.4 L87.8,298 L85.8,298.7Z"/><path d="M71.3,297.1 L75.1,293.4 L82.6,292.9 L84.8,299.1 L81.6,302.5 L76.5,296.3 L73.1,298.6Z"/></g><g fill="none" stroke="#fff" stroke-linecap="round" stroke-linejoin="round"><path d="M67.6,293 L73.4,293.2 L75,293.8 M65.8,298.8 L69.2,302.6" stroke-width="0.9"/><path d="M69.4,302.5 L71.4,304.1 M71.6,303.4 L73.8,305.5 M73.9,304.5 L76.1,306.7 M76.4,303.4 L79,305.8 M77.6,301.6 L80.8,304.6" stroke-width="1.5"/></g>
<text x="77.6" y="325.7" font-size="7.5" class="b" text-anchor="middle" fill="#000">合作伙伴</text>
<circle cx="129.4" cy="309.2" r="16.3" fill="#1f4173"/>
<g fill="#fff"><ellipse cx="122.2" cy="312.6" rx="1.9" ry="2.4"/><path d="M118.2,321 Q118.2,315.8 122.2,315.6 Q125,315.8 125.6,318 L125.6,321Z"/><ellipse cx="136.4" cy="312.6" rx="1.9" ry="2.4"/><path d="M140.4,321 Q140.4,315.8 136.4,315.6 Q133.6,315.8 133,318 L133,321Z"/><ellipse cx="129.4" cy="311.4" rx="2.5" ry="3.1"/><path d="M123.6,322 Q123.6,315 129.4,315 Q135.2,315 135.2,322Z"/></g><g fill="none" stroke="#fff" stroke-width="1.2" stroke-linecap="round"><path d="M130.4,306.6 A3.6,3.6 0 0 1 134.6,309.8"/><path d="M130.2,303.8 A6.6,6.6 0 0 1 137.4,309"/><path d="M130,301 A9.6,9.6 0 0 1 140,308"/></g>
<text x="129" y="338.1" font-size="7.5" class="b" text-anchor="middle" fill="#000">其他</text>
</g>
<g id="midL">
<text x="203.5" y="250.7" font-size="13.1" text-anchor="middle" fill="#7f7f7f" stroke="#7f7f7f" stroke-width="0.2" font-weight="500">移动数据</text>
<text x="203.5" y="281.7" font-size="13.1" text-anchor="middle" fill="#7f7f7f" stroke="#7f7f7f" stroke-width="0.2" font-weight="500">全球供应</text>
<rect x="158" y="255.7" width="91" height="1.5" fill="url(#gLine)"/>
<path d="M153.8,256.4 L161,253.5 L159.4,256.4 L161,259.3Z M253.2,256.4 L246,253.5 L247.6,256.4 L246,259.3Z" fill="#000"/>
</g>
<g id="center">
<ellipse cx="385" cy="250.45" rx="105" ry="104.15" fill="#c0cfa1"/>
<ellipse cx="384.65" cy="249.25" rx="90.35" ry="89.65" fill="#fff"/>
<ellipse cx="384.1" cy="250.8" rx="107.7" ry="105.8" fill="none" stroke="#d6202c" stroke-width="1.1" stroke-dasharray="3.6 2.4"/>
<ellipse cx="383.9" cy="249.1" rx="87.8" ry="86.8" fill="none" stroke="#c00000" stroke-width="2.8"/>
<g fill="#c00000"><path d="M338.5,152.2 L338.5,156.8 L350,152.2Z"/><path d="M418.2,152.2 L430.2,152.4 L430.2,157Z"/><path d="M273.4,268.2 L280,267.2 L278.2,275Z"/><path d="M488.4,268.6 L495.4,268.6 L491.6,277Z"/><path d="M301.6,321.6 L309,325.4 L305,329Z"/><path d="M467.2,321.2 L460,325.4 L464.3,329Z"/></g>
<rect x="320.2" y="252" width="129.6" height="41.2" rx="20.6" fill="#d2d2d2"/>
<rect x="319.3" y="251" width="129.3" height="41" rx="20.5" fill="url(#gPill)"/>
<path d="M352.35,210.79 L353.66,206.91 L358.58,207.25 L359.34,211.27 L363.77,212.80 L366.84,210.10 L370.93,212.85 L369.58,216.72 L372.65,220.25 L376.66,219.45 L378.82,223.88 L375.72,226.55 L376.61,231.15 L380.49,232.46 L380.15,237.38 L376.13,238.14 L374.60,242.57 L377.30,245.64 L374.55,249.73 L370.68,248.38 L367.15,251.45 L367.95,255.46 L363.52,257.62 L360.85,254.52 L356.25,255.41 L354.94,259.29 L350.02,258.95 L349.26,254.93 L344.83,253.40 L341.76,256.10 L337.67,253.35 L339.02,249.48 L335.95,245.95 L331.94,246.75 L329.78,242.32 L332.88,239.65 L331.99,235.05 L328.11,233.74 L328.45,228.82 L332.47,228.06 L334.00,223.63 L331.30,220.56 L334.05,216.47 L337.92,217.82 L341.45,214.75 L340.65,210.74 L345.08,208.58 L347.75,211.68Z" fill="#31859c" stroke="#31859c" stroke-width="2.2" stroke-linejoin="round"/><circle cx="354.3" cy="233.1" r="20.1" fill="#fff"/>
<path d="M408.67,213.31 L410.55,210.04 L414.97,211.22 L414.96,215.00 L418.73,217.17 L421.99,215.28 L425.22,218.51 L423.33,221.77 L425.50,225.54 L429.28,225.53 L430.46,229.95 L427.19,231.83 L427.19,236.17 L430.46,238.05 L429.28,242.47 L425.50,242.46 L423.33,246.23 L425.22,249.49 L421.99,252.72 L418.73,250.83 L414.96,253.00 L414.97,256.78 L410.55,257.96 L408.67,254.69 L404.33,254.69 L402.45,257.96 L398.03,256.78 L398.04,253.00 L394.27,250.83 L391.01,252.72 L387.78,249.49 L389.67,246.23 L387.50,242.46 L383.72,242.47 L382.54,238.05 L385.81,236.17 L385.81,231.83 L382.54,229.95 L383.72,225.53 L387.50,225.54 L389.67,221.77 L387.78,218.51 L391.01,215.28 L394.27,217.17 L398.04,215.00 L398.03,211.22 L402.45,210.04 L404.33,213.31Z" fill="#5f497a" stroke="#5f497a" stroke-width="2.2" stroke-linejoin="round"/><circle cx="406.5" cy="234.0" r="18.7" fill="#fff"/>
<path d="M416.01,260.81 L417.41,257.51 L421.86,258.14 L422.29,261.69 L426.15,263.44 L429.11,261.42 L432.52,264.36 L430.96,267.58 L433.27,271.14 L436.84,271.04 L438.12,275.35 L435.07,277.22 L435.09,281.46 L438.15,283.31 L436.89,287.63 L433.32,287.55 L431.04,291.13 L432.61,294.34 L429.22,297.30 L426.26,295.30 L422.40,297.07 L421.99,300.63 L417.54,301.28 L416.13,297.99 L411.93,297.40 L409.66,300.17 L405.57,298.32 L406.15,294.79 L402.94,292.02 L399.53,293.12 L397.09,289.35 L399.49,286.69 L398.28,282.63 L394.82,281.72 L394.81,277.22 L398.26,276.29 L399.44,272.21 L397.03,269.58 L399.45,265.79 L402.86,266.87 L406.05,264.08 L405.45,260.55 L409.53,258.67 L411.81,261.43Z" fill="#31859c" stroke="#31859c" stroke-width="2.2" stroke-linejoin="round"/><circle cx="416.6" cy="279.4" r="15.7" fill="#fff"/>
<path d="M374.83,280.65 L376.04,277.10 L380.37,277.48 L380.94,281.18 L384.79,282.58 L387.61,280.11 L391.17,282.61 L389.82,286.10 L392.45,289.24 L396.12,288.51 L397.96,292.45 L395.04,294.80 L395.75,298.83 L399.30,300.04 L398.92,304.37 L395.22,304.94 L393.82,308.79 L396.29,311.61 L393.79,315.17 L390.30,313.82 L387.16,316.45 L387.89,320.12 L383.95,321.96 L381.60,319.04 L377.57,319.75 L376.36,323.30 L372.03,322.92 L371.46,319.22 L367.61,317.82 L364.79,320.29 L361.23,317.79 L362.58,314.30 L359.95,311.16 L356.28,311.89 L354.44,307.95 L357.36,305.60 L356.65,301.57 L353.10,300.36 L353.48,296.03 L357.18,295.46 L358.58,291.61 L356.11,288.79 L358.61,285.23 L362.10,286.58 L365.24,283.95 L364.51,280.28 L368.45,278.44 L370.80,281.36Z" fill="#7f7f7f" stroke="#7f7f7f" stroke-width="2.2" stroke-linejoin="round"/><circle cx="376.2" cy="300.2" r="16.6" fill="#fff"/>
<text x="353.8" y="231.0" font-size="8.7" class="b" text-anchor="middle" fill="#c00000">重新</text><text x="353.8" y="241.2" font-size="8.7" class="b" text-anchor="middle" fill="#c00000">打包</text>
<text x="406.2" y="232.5" font-size="8.7" class="b" text-anchor="middle" fill="#c00000">重新</text><text x="406.2" y="242.9" font-size="8.7" class="b" text-anchor="middle" fill="#c00000">分发</text>
<text x="416.4" y="279.0" font-size="8.7" class="b" text-anchor="middle" fill="#c00000">回收</text><text x="416.4" y="289.0" font-size="8.7" class="b" text-anchor="middle" fill="#c00000">利用</text>
<text x="375.6" y="297.7" font-size="8.7" class="b" text-anchor="middle" fill="#c00000">动态</text><text x="375.6" y="308.4" font-size="8.7" class="b" text-anchor="middle" fill="#c00000">分配</text>
<text x="323.8" y="272.2" font-size="8.6" class="b" fill="#000">基于云<tspan font-size="9.2" letter-spacing="-0.35">SIM</tspan> 技术</text>
<text font-size="8.6" font-style="italic" fill="#858585" font-family="'Liberation Sans',sans-serif"><textPath href="#arcText" startOffset="4.39" textLength="13.02" lengthAdjust="spacingAndGlyphs">The</textPath><textPath href="#arcText" startOffset="20.33" textLength="25.74" lengthAdjust="spacingAndGlyphs">World's</textPath><textPath href="#arcText" startOffset="49.44" textLength="16.67" lengthAdjust="spacingAndGlyphs">First</textPath><textPath href="#arcText" startOffset="69.91" textLength="14.77" lengthAdjust="spacingAndGlyphs">and</textPath><textPath href="#arcText" startOffset="88.19" textLength="29.98" lengthAdjust="spacingAndGlyphs">Leading</textPath><textPath href="#arcText" startOffset="120.81" textLength="25.60" lengthAdjust="spacingAndGlyphs">Mobile</textPath><textPath href="#arcText" startOffset="149.62" textLength="16.67" lengthAdjust="spacingAndGlyphs">Data</textPath><textPath href="#arcText" startOffset="168.78" textLength="25.01" lengthAdjust="spacingAndGlyphs">Traffic</textPath><textPath href="#arcText" startOffset="196.72" textLength="29.40" lengthAdjust="spacingAndGlyphs">Sharing</textPath><textPath href="#arcText" startOffset="230.06" textLength="46.80" lengthAdjust="spacingAndGlyphs">Marketplace</textPath></text>
</g>
<g id="rightC">
<circle cx="657.3" cy="251.1" r="91" fill="url(#gGreenC)"/>
<path d="M658.5,249.8 L559.9,181.5 L552,181.5 L552,331 L569.9,330.7Z" fill="#fff"/>
<circle cx="657.2" cy="250.9" r="36.8" fill="#fff"/>
<circle cx="657.2" cy="251.1" r="31.4" fill="url(#gUsers)" stroke="#6b9b3a" stroke-width="1.4"/>
<g transform="translate(0,0.8)">
<g fill="#5f8f2f"><path d="M645.6,236.2 Q645.4,231.4 650.6,231.2 Q655.8,231.4 655.6,236.2 L655.4,239.4 Q654.6,243.6 650.6,243.8 Q646.6,243.6 645.8,239.4Z"/><path d="M639.8,253.6 Q640,247.6 645.4,246.2 L648.6,244.8 L650.6,247.4 L652.6,244.8 L655.8,246.2 Q658.4,247 659.4,249 Q655.4,250.4 654.4,253.6Z"/><path d="M657.2,246.4 Q656.6,239.6 658.2,235.4 Q659.8,231.2 664.4,231.2 Q669,231.2 670.6,235.4 Q672.2,239.6 671.6,246.4 Q669.6,247 667.6,245.4 L661.2,245.4 Q659.2,247 657.2,246.4Z"/><path d="M653.6,253.6 Q653.8,248.6 658.4,247 L661.4,246 Q664.4,250.4 667.4,246 L670.4,247 Q675,248.6 675.2,253.6Z"/></g>
<ellipse cx="650.6" cy="237.6" rx="3.5" ry="4.3" fill="#f6faef"/><path d="M646.4,236.2 Q649.6,236.4 652.4,233.6 Q653.6,235.6 655,236 L655,233.4 Q653.6,231.6 650.6,231.6 Q647,231.8 646.4,236.2Z" fill="#5f8f2f"/>
<path d="M660.8,237.4 Q663.6,237 665.6,234.6 Q666.6,236.8 668,237.4 Q668.2,243.6 664.4,243.8 Q660.6,243.6 660.8,237.4Z" fill="#f6faef"/>
</g>
<text x="658.2" y="270.0" font-size="10.6" class="b" text-anchor="middle" fill="#111" font-family="'Liberation Sans',sans-serif" letter-spacing="-0.35">USERS</text>
<circle cx="652.2" cy="182.5" r="16.1" fill="#a5cf61"/>
<rect x="640.6" y="180.6" width="23.4" height="7.6" rx="1.8" fill="#fff"/><rect x="642.6" y="177.4" width="1.8" height="5" rx="0.7" fill="#fff"/>
<text x="652" y="209.4" font-size="7.7" class="b" text-anchor="middle" fill="#000">终端设备</text>
<circle cx="713" cy="212.5" r="16.2" fill="#8bbd3b"/>
<rect x="708.7" y="199.6" width="2.4" height="24.3" fill="#fff"/><rect x="714.4" y="199.6" width="2.4" height="24.3" fill="#fff"/><rect x="702" y="205.8" width="21.6" height="1.9" fill="#fff"/><rect x="702" y="210.6" width="21.6" height="1.9" fill="#fff"/><rect x="702" y="215.3" width="21.6" height="1.9" fill="#fff"/>
<path d="M707.4,202 H718.6 L721.1,204.5 V218.1 L718.6,220.6 H707.4 L704.9,218.1 V204.5Z" fill="#fff"/><rect x="708.2" y="211" width="8.6" height="8.6" fill="#e6e6e6"/>
<text x="713" y="239.2" font-size="7.7" class="b" text-anchor="middle" fill="#000">通信模组</text>
<circle cx="711.5" cy="275.5" r="16.2" fill="#7aa130"/>
<path d="M700.3,266.9 H718 L721,269.9 V283.6 H700.3Z" fill="#fff"/>
<path d="M705.6,280 a2.9,2.9 0 0 1 -0.4,-5.8 a3.9,3.9 0 0 1 7.2,-1.6 a2.9,2.9 0 0 1 3.6,2.3 a2.6,2.6 0 0 1 -0.8,5.1Z" fill="#7aa130"/>
<text x="711.7" y="302.8" font-size="7.7" class="b" text-anchor="middle" fill="#000">云卡连接</text>
<circle cx="654" cy="308.8" r="16.2" fill="#648429"/>
<rect x="641.20" y="309.40" width="1.8" height="2.4" fill="#fff"/><rect x="644.20" y="307.60" width="1.8" height="4.2" fill="#fff"/><rect x="647.20" y="305.60" width="1.8" height="6.2" fill="#fff"/><rect x="650.20" y="303.80" width="1.8" height="8.0" fill="#fff"/><path d="M640.20,308.2 a1.8,1.8 0 0 1 0.1,-3.6 a2.6,2.6 0 0 1 4.8,-0.5 a1.7,1.7 0 0 1 0.3,3.3 l-0.6,0.8Z" fill="#fff"/><rect x="656.40" y="309.40" width="1.8" height="2.4" fill="#fff"/><rect x="659.40" y="307.60" width="1.8" height="4.2" fill="#fff"/><rect x="662.40" y="305.60" width="1.8" height="6.2" fill="#fff"/><rect x="665.40" y="303.80" width="1.8" height="8.0" fill="#fff"/><path d="M655.40,308.2 a1.8,1.8 0 0 1 0.1,-3.6 a2.6,2.6 0 0 1 4.8,-0.5 a1.7,1.7 0 0 1 0.3,3.3 l-0.6,0.8Z" fill="#fff"/>
<text x="654.2" y="335.4" font-size="7.7" class="b" text-anchor="middle" fill="#000">无缝保障</text>
</g>
<g id="midR">
<text x="556.4" y="248.2" font-size="13.2" text-anchor="middle" fill="#7f7f7f" stroke="#7f7f7f" stroke-width="0.2" font-weight="500">无卡连接</text>
<text x="556.4" y="281.8" font-size="13.2" text-anchor="middle" fill="#7f7f7f" stroke="#7f7f7f" stroke-width="0.2" font-weight="500">无缝体验</text>
<rect x="507" y="255.3" width="94" height="1.6" fill="url(#gLine)"/>
<rect x="511" y="261.3" width="95" height="1.6" fill="url(#gLine)"/>
<path d="M605.8,256.1 L598.2,253.2 L599.8,256.1 L598.2,259Z M506.8,262.1 L514.4,259.2 L512.8,262.1 L514.4,265Z" fill="#000"/>
</g>
<g id="banners">
<g transform="translate(0,0)"><path d="M37.5,374 L144,374 L143.6,377 L145.3,377 L140.9,394.8 L36,394.8 L36.3,391.7 L33.9,391.7Z" fill="#c00000"/><text x="89.4" y="387.3" font-size="12.2" class="b" text-anchor="middle" fill="#fff">多国供卡</text></g>
<g transform="translate(146.1,0)"><path d="M37.5,374 L144,374 L143.6,377 L145.3,377 L140.9,394.8 L36,394.8 L36.3,391.7 L33.9,391.7Z" fill="#c00000"/><text x="89.4" y="387.3" font-size="12.2" class="b" text-anchor="middle" fill="#fff">业务准备</text></g>
<g transform="translate(292.7,0)"><path d="M37.5,374 L144,374 L143.6,377 L145.3,377 L140.9,394.8 L36,394.8 L36.3,391.7 L33.9,391.7Z" fill="#c00000"/><text x="89.4" y="387.3" font-size="12.2" class="b" text-anchor="middle" fill="#fff">云端转换</text></g>
<g transform="translate(439.3,0)"><path d="M37.5,374 L144,374 L143.6,377 L145.3,377 L140.9,394.8 L36,394.8 L36.3,391.7 L33.9,391.7Z" fill="#c00000"/><text x="89.4" y="387.3" font-size="12.2" class="b" text-anchor="middle" fill="#fff">调度分配</text></g>
<g transform="translate(585.5,0)"><path d="M37.5,374 L144,374 L143.6,377 L145.3,377 L140.9,394.8 L36,394.8 L36.3,391.7 L33.9,391.7Z" fill="#c00000"/><text x="89.4" y="387.3" font-size="12.2" class="b" text-anchor="middle" fill="#fff">智能换网</text></g>
</g>
</svg></body></html>
